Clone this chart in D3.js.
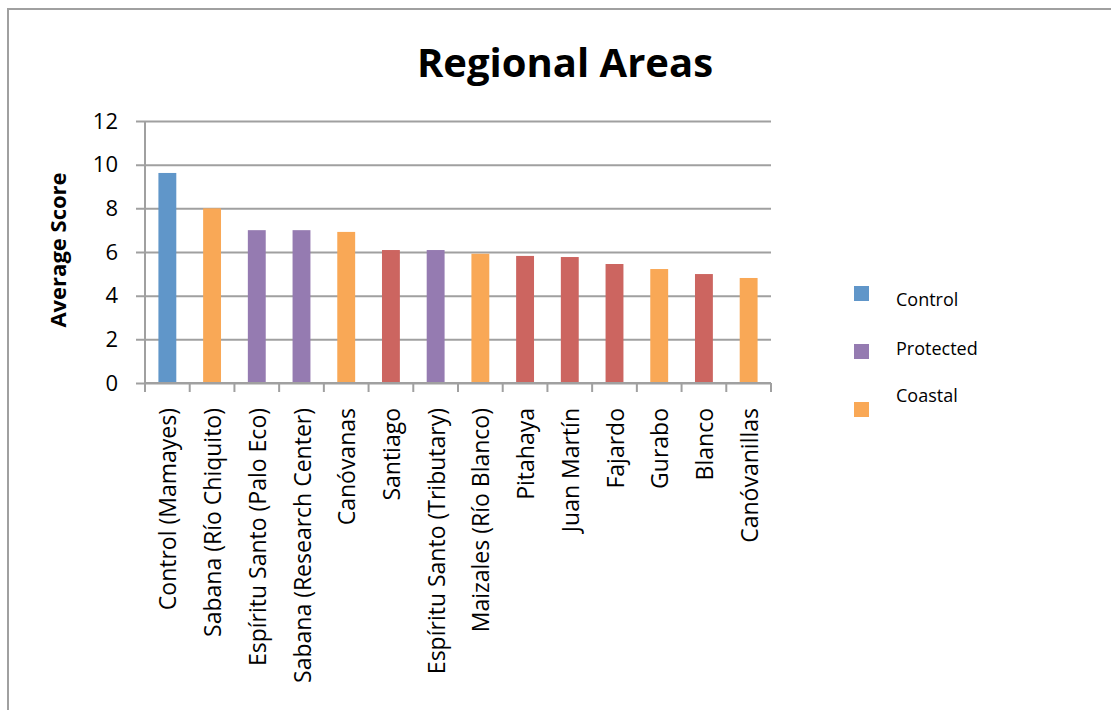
<!DOCTYPE html>
<html>
<head>
<meta charset="utf-8">
<script src="https://cdn.jsdelivr.net/npm/d3@7"></script>
<style>
  body { margin: 0; background: #fff; }
  text { font-family: "Open Sans", "Noto Sans", sans-serif; fill: #000; }
</style>
</head>
<body>
<div id="chart"></div>
<script>
const sites = [
  "Control (Mamayes)", "Sabana (Río Chiquito)", "Espíritu Santo (Palo Eco)",
  "Sabana (Research Center)", "Canóvanas", "Santiago", "Espíritu Santo (Tributary)",
  "Maizales (Río Blanco)", "Pitahaya", "Juan Martín", "Fajardo", "Gurabo",
  "Blanco", "Canóvanillas"
];
const scores = [9.62, 8.0, 7.0, 7.0, 6.92, 6.09, 6.09, 5.92, 5.82, 5.77, 5.45, 5.22, 4.99, 4.81];
const groups = [
  "Control", "Coastal", "Protected", "Protected", "Coastal", "Other", "Protected",
  "Coastal", "Other", "Other", "Other", "Coastal", "Other", "Coastal"
];
const legendGroups = ["Control", "Protected", "Coastal"];
const yTicks = [0, 2, 4, 6, 8, 10, 12];

const color = d3.scaleOrdinal()
  .domain(["Control", "Protected", "Coastal", "Other"])
  .range(["#6096c9", "#957bb1", "#f9a856", "#cc6560"]);

const W = 1111, H = 710;
const margin = { top: 121, left: 145, right: 340, bottom: 327 };
const width = W - margin.left - margin.right;
const height = H - margin.top - margin.bottom;

const svg = d3.select("#chart").append("svg")
  .attr("width", W)
  .attr("height", H);

// outer chart border (runs off the right and bottom edges)
svg.append("rect")
  .attr("x", 8).attr("y", 9)
  .attr("width", W + 20).attr("height", H + 20)
  .attr("fill", "none")
  .attr("stroke", "#a0a0a0")
  .attr("stroke-width", 2);

svg.append("text")
  .attr("x", 565).attr("y", 77)
  .attr("text-anchor", "middle")
  .style("font-size", "40px")
  .style("font-weight", "bold")
  .text("Regional Areas");

const g = svg.append("g")
  .attr("transform", `translate(${margin.left},${margin.top})`);

const x = d3.scaleBand()
  .domain(sites)
  .range([0, width]);

const y = d3.scaleLinear()
  .domain([0, 12])
  .range([height, 0]);

// gridlines + y labels
const yAxis = g.append("g")
  .call(d3.axisLeft(y).tickValues(yTicks).tickSize(-width).tickPadding(27));
yAxis.select(".domain").remove();
yAxis.selectAll(".tick line")
  .attr("x1", -9)
  .attr("stroke", "#a0a0a0")
  .attr("stroke-width", 2);
yAxis.selectAll(".tick text")
  .style("font-size", "22px")
  .style("font-family", "'Open Sans', sans-serif");

g.append("line")
  .attr("x1", 0).attr("x2", 0)
  .attr("y1", 0).attr("y2", height)
  .attr("stroke", "#a0a0a0")
  .attr("stroke-width", 2);

g.selectAll("rect.bar")
  .data(sites)
  .enter()
  .append("rect")
  .attr("class", "bar")
  .attr("x", (d, i) => x(d) + x.bandwidth() * 0.3)
  .attr("width", x.bandwidth() * 0.4)
  .attr("y", (d, i) => y(scores[i]))
  .attr("height", (d, i) => height - y(scores[i]))
  .attr("fill", (d, i) => color(groups[i]));

// x axis with ticks between categories
const xAxis = g.append("g")
  .attr("transform", `translate(0,${height})`);
xAxis.append("line")
  .attr("x1", 0).attr("x2", width)
  .attr("stroke", "#a0a0a0")
  .attr("stroke-width", 2);
xAxis.selectAll("line.sep")
  .data(d3.range(sites.length + 1))
  .enter()
  .append("line")
  .attr("class", "sep")
  .attr("x1", i => i * x.step()).attr("x2", i => i * x.step())
  .attr("y1", 0).attr("y2", 9)
  .attr("stroke", "#a0a0a0")
  .attr("stroke-width", 2);
xAxis.selectAll("text")
  .data(sites)
  .enter()
  .append("text")
  .attr("transform", d => `translate(${x(d) + x.bandwidth() / 2 + 1},25) rotate(-90)`)
  .attr("text-anchor", "end")
  .attr("dy", "0.35em")
  .style("font-size", "23px")
  .text(d => d);

svg.append("text")
  .attr("transform", "translate(66,250) rotate(-90)")
  .attr("text-anchor", "middle")
  .style("font-size", "22px")
  .style("font-weight", "bold")
  .text("Average Score");

// legend
const legend = svg.append("g");
const legendY = [286, 344, 402];
const labelY = [300, 349, 396];
legendGroups.forEach((k, i) => {
  legend.append("rect")
    .attr("x", 854).attr("y", legendY[i])
    .attr("width", 15).attr("height", 15)
    .attr("fill", color(k));
  legend.append("text")
    .attr("x", 896).attr("y", labelY[i])
    .attr("dy", "0.35em")
    .style("font-size", "18px")
    .text(k);
});
</script>
</body>
</html>
